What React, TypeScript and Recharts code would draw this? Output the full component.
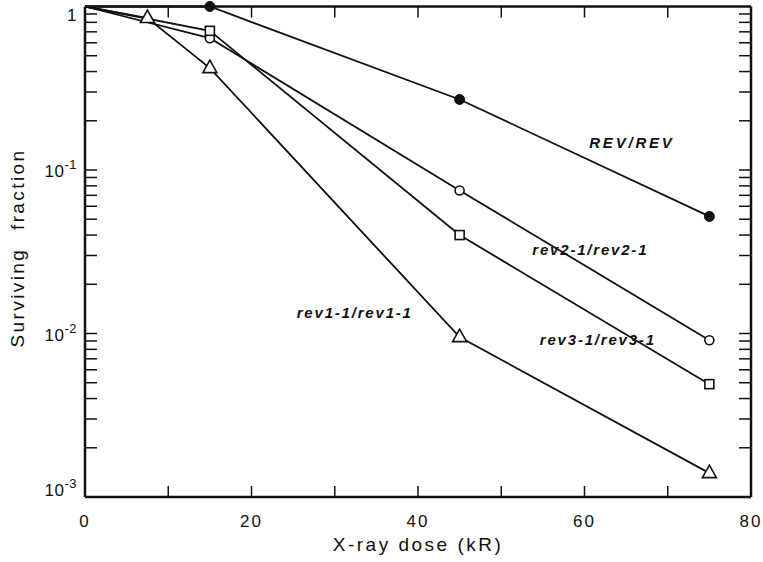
import React from 'react';
import { LineChart, Line, XAxis, YAxis, ReferenceLine, ReferenceDot } from 'recharts';

const doses = [0, 7.5, 15, 45, 75];
const revRev = [1, null, 1.0, 0.27, 0.052];
const rev2 = [1, null, 0.64, 0.075, 0.0091];
const rev3 = [1, null, 0.71, 0.04, 0.0049];
const rev1 = [1, 0.85, 0.42, 0.0095, 0.0014];

const xTicks = [0, 10, 20, 30, 40, 50, 60, 70, 80];
const decades = [1, 0.1, 0.01, 0.001];
const decadeLabels = ['1', '10|-1', '10|-2', '10|-3'];
const yTicks = [1, 0.9, 0.8, 0.7, 0.6, 0.5, 0.4, 0.3, 0.2, 0.1, 0.09, 0.08, 0.07, 0.06, 0.05, 0.04, 0.03, 0.02, 0.01,
  0.009, 0.008, 0.007, 0.006, 0.005, 0.004, 0.003, 0.002, 0.001];

const seriesLabels = [
  { text: 'REV/REV', x: 65.7, y: 0.146 },
  { text: 'rev2-1/rev2-1', x: 60.7, y: 0.0324 },
  { text: 'rev3-1/rev3-1', x: 61.6, y: 0.0091 },
  { text: 'rev1-1/rev1-1', x: 32.4, y: 0.0133 },
];

const data = doses.map((d, i) => ({
  dose: d,
  rev: revRev[i],
  rev2: rev2[i],
  rev3: rev3[i],
  rev1: rev1[i],
}));

const W = 763;
const H = 562;
const LEFT = 85;
const RIGHT = 751;
const TOP = 6.5;
const BOTTOM = 497;
const FONT = '"Liberation Sans", Arial, Helvetica, sans-serif';

const YTick = (props: any) => {
  const { y, payload } = props;
  const v = payload.value;
  const di = decades.findIndex((d) => Math.abs(d - v) < v * 1e-6);
  let label = null;
  if (di >= 0) {
    const [base, exp] = decadeLabels[di].split('|');
    const dy = di === 0 ? 14 : di === 3 ? -1 : 7;
    label = (
      <text x={77} y={y + dy} textAnchor="end" fontFamily={FONT} fontSize={17} letterSpacing={0.5} fill="#111">
        <tspan>{base}</tspan>
        {exp && <tspan fontSize={13} dy={-8}>{exp}</tspan>}
      </text>
    );
  }
  return (
    <g>
      {v !== 1 && v !== 0.001 && (
        <>
          <line x1={LEFT} x2={LEFT + 12} y1={y} y2={y} stroke="#111" strokeWidth={1.5} />
          <line x1={RIGHT} x2={RIGHT - 12} y1={y} y2={y} stroke="#111" strokeWidth={1.5} />
        </>
      )}
      {label}
    </g>
  );
};

const XTick = (props: any) => {
  const { x, payload } = props;
  const v = payload.value;
  return (
    <g>
      {v !== 0 && v !== 80 && (
        <>
          <line x1={x} x2={x} y1={BOTTOM} y2={BOTTOM - 11} stroke="#111" strokeWidth={1.5} />
          <line x1={x} x2={x} y1={TOP} y2={TOP + 11} stroke="#111" strokeWidth={1.5} />
        </>
      )}
      {v % 20 === 0 && (
        <text x={x} y={527} textAnchor="middle" fontFamily={FONT} fontSize={17} letterSpacing={2} fill="#111">
          {v}
        </text>
      )}
    </g>
  );
};

const makeDot = (kind: string) => (props: any) => {
  const { cx, cy, index, value } = props;
  if (index === 0 || value == null || cx == null || cy == null) return <g key={`${kind}-${index}`} />;
  const k = `${kind}-${index}`;
  if (kind === 'filled') return <circle key={k} cx={cx} cy={cy} r={5} fill="#111" stroke="#111" />;
  if (kind === 'circle') return <circle key={k} cx={cx} cy={cy} r={4.5} fill="#fff" stroke="#111" strokeWidth={1.6} />;
  if (kind === 'square')
    return <rect key={k} x={cx - 4.5} y={cy - 4.5} width={9} height={9} fill="#fff" stroke="#111" strokeWidth={1.6} />;
  return (
    <path
      key={k}
      d={`M${cx},${cy - 8} L${cx + 7},${cy + 4.5} L${cx - 7},${cy + 4.5} Z`}
      fill="#fff"
      stroke="#111"
      strokeWidth={1.6}
    />
  );
};

const SeriesText = (text: string) => (props: any) => (
  <text
    x={props.cx}
    y={props.cy + 5}
    textAnchor="middle"
    fontFamily={FONT}
    fontSize={15}
    fontStyle="italic"
    fontWeight="bold"
    letterSpacing={text === 'REV/REV' ? 2.8 : 1.8}
    fill="#111"
  >
    {text}
  </text>
);

export default function App() {
  return (
    <div style={{ position: 'absolute', left: 0, top: 0, width: W, height: H, background: '#fff' }}>
      <LineChart
        width={W}
        height={H}
        data={data}
        margin={{ top: TOP, right: W - RIGHT, bottom: 20, left: 20 }}
      >
        <XAxis
          dataKey="dose"
          type="number"
          domain={[0, 80]}
          ticks={xTicks}
          interval={0}
          height={H - BOTTOM - 20}
          tickLine={false}
          tick={<XTick />}
          axisLine={{ stroke: '#111', strokeWidth: 2.5 }}
        />
        <YAxis
          type="number"
          scale="log"
          domain={[0.001, 1]}
          ticks={yTicks}
          interval={0}
          width={LEFT - 20}
          tickLine={false}
          tick={<YTick />}
          axisLine={{ stroke: '#111', strokeWidth: 2.5 }}
        />
        <ReferenceLine y={1} stroke="#111" strokeWidth={2.5} />
        <ReferenceLine x={80} stroke="#111" strokeWidth={2.5} />
        <Line dataKey="rev" stroke="#111" strokeWidth={1.8} connectNulls dot={makeDot('filled')} isAnimationActive={false} />
        <Line dataKey="rev2" stroke="#111" strokeWidth={1.8} connectNulls dot={makeDot('circle')} isAnimationActive={false} />
        <Line dataKey="rev3" stroke="#111" strokeWidth={1.8} connectNulls dot={makeDot('square')} isAnimationActive={false} />
        <Line dataKey="rev1" stroke="#111" strokeWidth={1.8} connectNulls dot={makeDot('triangle')} isAnimationActive={false} />
        {seriesLabels.map((s) => (
          <ReferenceDot key={s.text} x={s.x} y={s.y} r={0} shape={SeriesText(s.text)} />
        ))}
        <text
          x={(LEFT + RIGHT) / 2}
          y={551}
          textAnchor="middle"
          fontFamily={FONT}
          fontSize={19}
          letterSpacing={2.5}
          fill="#111"
        >
          X-ray dose (kR)
        </text>
        <text
          x={24}
          y={248}
          transform="rotate(-90 24 248)"
          textAnchor="middle"
          fontFamily={FONT}
          fontSize={19}
          letterSpacing={2.4}
          wordSpacing={10}
          fill="#111"
        >
          Surviving fraction
        </text>
      </LineChart>
    </div>
  );
}
